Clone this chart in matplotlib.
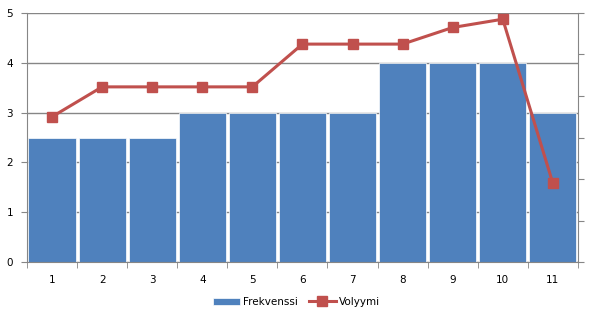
import matplotlib.pyplot as plt
import numpy as np

# categories and series
categories = ['1', '2', '3', '4', '5', '6', '7', '8', '9', '10', '11']
frekvenssi = [2.5, 2.5, 2.5, 3, 3, 3, 3, 4, 4, 4, 3]
volyymi = [3.5, 4.22, 4.22, 4.22, 4.22, 5.25, 5.25, 5.25, 5.65, 5.85, 1.9]

bar_color = '#4F81BD'
line_color = '#C0504D'
axis_color = '#868686'

fig = plt.figure(figsize=(5.93, 3.24), dpi=100)
ax = fig.add_axes([0.0455, 0.191, 0.929, 0.769])
x = np.arange(len(categories))

ax.set_axisbelow(True)
ax.yaxis.grid(True, color=axis_color, linewidth=1)
bars = ax.bar(x, frekvenssi, width=0.94, color=bar_color, edgecolor='white',
              linewidth=0.5, label='Frekvenssi')
ax.set_xlim(-0.5, len(categories) - 0.5)
ax.set_ylim(0, 5)
ax.set_yticks(range(6))
ax.set_xticks(x)
ax.set_xticklabels(categories)
ax.set_xticks(np.arange(-0.5, len(categories)), minor=True)
ax.tick_params(axis='x', which='major', length=0, pad=9, labelsize=7.5)
ax.tick_params(axis='x', which='minor', length=4, color=axis_color)
ax.tick_params(axis='y', length=4, color=axis_color, labelsize=7.5, pad=6)
for s in ['top', 'right']:
    ax.spines[s].set_visible(False)
for s in ['left', 'bottom']:
    ax.spines[s].set_color(axis_color)

ax2 = ax.twinx()
line, = ax2.plot(x, volyymi, color=line_color, linewidth=2.2, marker='s',
                 markersize=6.5, label='Volyymi')
ax2.set_ylim(0, 6)
ax2.set_yticks(range(7))
ax2.set_yticklabels([])
ax2.tick_params(axis='y', length=4, color=axis_color)
for s in ['top', 'left', 'bottom']:
    ax2.spines[s].set_visible(False)
ax2.spines['right'].set_color(axis_color)

fig.legend([bars, line], ['Frekvenssi', 'Volyymi'], loc='center',
           bbox_to_anchor=(0.5, 0.068), ncol=2, frameon=False, fontsize=7.5,
           handlelength=2.6, columnspacing=1.0, handletextpad=0.3)

fig.savefig('out.png', dpi=100)
